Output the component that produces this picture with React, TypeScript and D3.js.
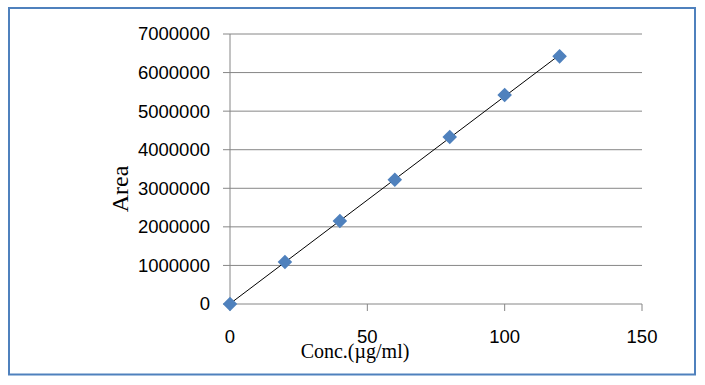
import React from "react";
import * as d3 from "d3";

const concentrations = [0, 20, 40, 60, 80, 100, 120];
const areas = [0, 1090000, 2150000, 3220000, 4330000, 5420000, 6420000];
const xTicks = [0, 50, 100, 150];
const yTicks = [0, 1000000, 2000000, 3000000, 4000000, 5000000, 6000000, 7000000];
const xTitle = "Conc.(µg/ml)";
const yTitle = "Area";

const W = 705;
const H = 385;
const plot = { left: 230, right: 642, top: 34, bottom: 304 };

export default function App() {
  const x = d3.scaleLinear().domain([0, 150]).range([plot.left, plot.right]);
  const y = d3.scaleLinear().domain([0, 7000000]).range([plot.bottom, plot.top]);

  // least-squares trendline
  const mx = d3.mean(concentrations) as number;
  const my = d3.mean(areas) as number;
  let sxy = 0, sxx = 0;
  concentrations.forEach((c, i) => {
    sxy += (c - mx) * (areas[i] - my);
    sxx += (c - mx) * (c - mx);
  });
  const slope = sxy / sxx;
  const intercept = my - slope * mx;
  const x0 = d3.min(concentrations) as number;
  const x1 = d3.max(concentrations) as number;
  const line = d3.line<number>().x((d) => x(d)).y((d) => y(slope * d + intercept));

  const diamond = d3.symbol().type(d3.symbolDiamond2).size(135)() as string;
  const grid = "#868686";
  const numFont = "'Liberation Sans', Arial, sans-serif";
  const serif = "'Liberation Serif', 'Times New Roman', serif";

  return (
    <svg width={W} height={H} style={{ position: "absolute", left: 0, top: 0 }}>
      <rect x={0} y={0} width={W} height={H} fill="#fff" />
      <rect x={9} y={8} width={686} height={366.5} fill="#fff" stroke="#4F81BD" strokeWidth={2} />
      {yTicks.map((t) => (
        <g key={t}>
          <line x1={plot.left - 7} x2={plot.right} y1={y(t)} y2={y(t)} stroke={grid} strokeWidth={1} />
          <text x={210} y={y(t)} dy="0.35em" textAnchor="end" fontFamily={numFont} fontSize={18.5} fill="#000">
            {t}
          </text>
        </g>
      ))}
      <line x1={plot.left} x2={plot.left} y1={plot.top} y2={plot.bottom} stroke={grid} strokeWidth={1} />
      {xTicks.map((t) => (
        <g key={t}>
          <line x1={x(t)} x2={x(t)} y1={plot.bottom} y2={plot.bottom + 7} stroke={grid} strokeWidth={1} />
          <text x={x(t)} y={343} textAnchor="middle" fontFamily={numFont} fontSize={18.5} fill="#000">
            {t}
          </text>
        </g>
      ))}
      <path d={line([x0, x1]) as string} fill="none" stroke="#000" strokeWidth={1} />
      {concentrations.map((c, i) => (
        <path key={c} d={diamond} transform={`translate(${x(c)},${y(areas[i])})`} fill="#4F81BD" />
      ))}
      <text x={355} y={358} textAnchor="middle" fontFamily={serif} fontSize={20} fill="#000">
        {xTitle}
      </text>
      <text
        transform={`translate(128,189) rotate(-90)`}
        textAnchor="middle"
        fontFamily={serif}
        fontSize={24}
        fill="#000"
      >
        {yTitle}
      </text>
    </svg>
  );
}
